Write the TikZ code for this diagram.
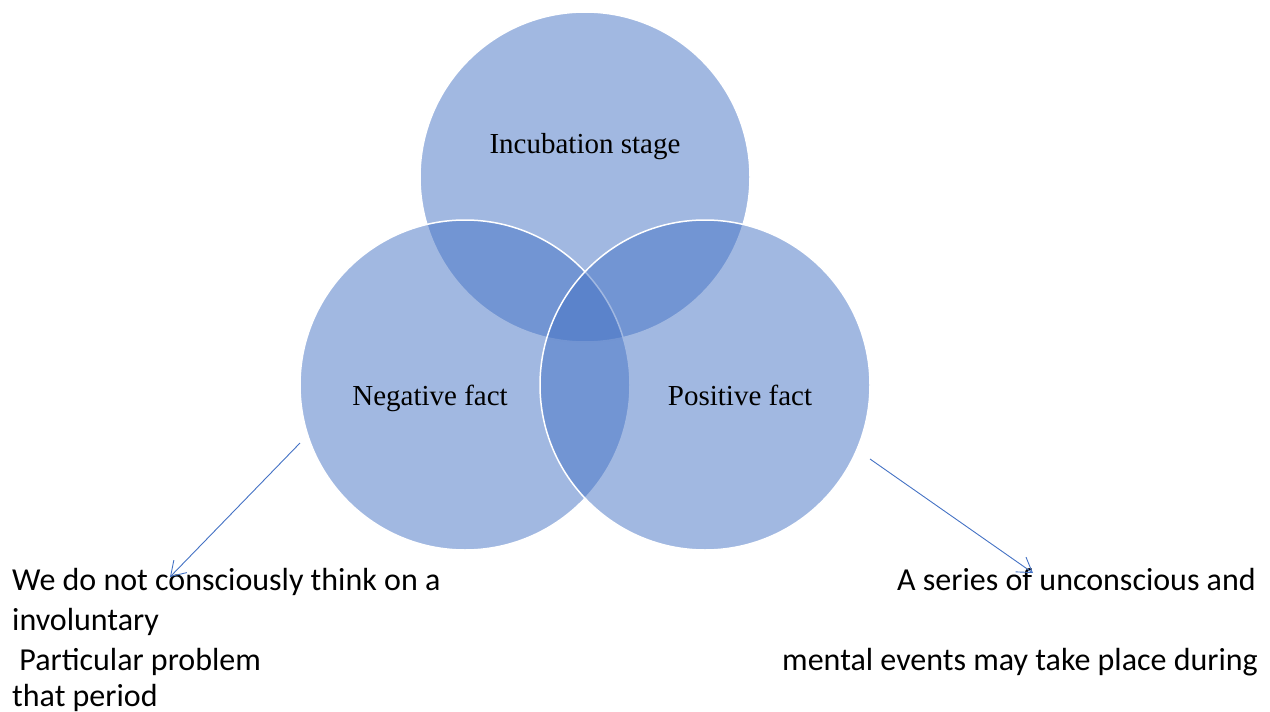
\documentclass[tikz,border=0pt]{standalone}
\usepackage{fontspec}
\setmainfont{Liberation Serif}
\newfontfamily\notefont{Carlito}
\usetikzlibrary{arrows.meta}

\definecolor{vennblue}{RGB}{68,114,196}

\tikzset{
    venn/.style={fill=vennblue, fill opacity=0.5, draw=white, draw opacity=1, line width=1.5pt},
    vennlabel/.style={font=\fontsize{29}{34}\selectfont, anchor=base, text opacity=1},
    notetext/.style={font=\notefont\fontsize{32}{38}\selectfont, inner sep=0pt},
    pointer/.style={draw=vennblue, line width=0.9pt, -{Straight Barb[length=14pt,width=18pt]}},
}

\begin{document}
\begin{tikzpicture}[x=1pt,y=-1pt]
    \useasboundingbox (0,0) rectangle (1270,712);

    % the three sets
    \path [venn] (585,177) circle (165);
    \path [venn] (465,385) circle (165);
    \path [venn] (705,385) circle (165);

    \node [vennlabel] (incubation) at (585,153) {Incubation stage};
    \node [vennlabel] (negative) at (430,405) {Negative fact};
    \node [vennlabel] (positive) at (740,405) {Positive fact};

    % notes under the circles
    \node [notetext, anchor=base west] (negA) at (12,590) {We do not consciously think on a};
    \node [notetext, anchor=base west] (negB) at (12,630) {involuntary};
    \node [notetext, anchor=base west] (negC) at (12,670) {\ Particular problem};
    \node [notetext, anchor=base west] (negD) at (12,706) {that period};

    \node [notetext, anchor=base east] (posA) at (1256,590) {A series of unconscious and};
    \node [notetext, anchor=base east] (posB) at (1258,670) {mental events may take place during};

    \coordinate (negfrom) at (300,443);
    \coordinate (negto) at (170,577);
    \coordinate (posfrom) at (870,459);
    \coordinate (posto) at (1033,573);

    \draw [pointer]
        (negfrom) -- (negto)
        ;
    \draw [pointer]
        (posfrom) -- (posto)
        ;
\end{tikzpicture}
\end{document}
